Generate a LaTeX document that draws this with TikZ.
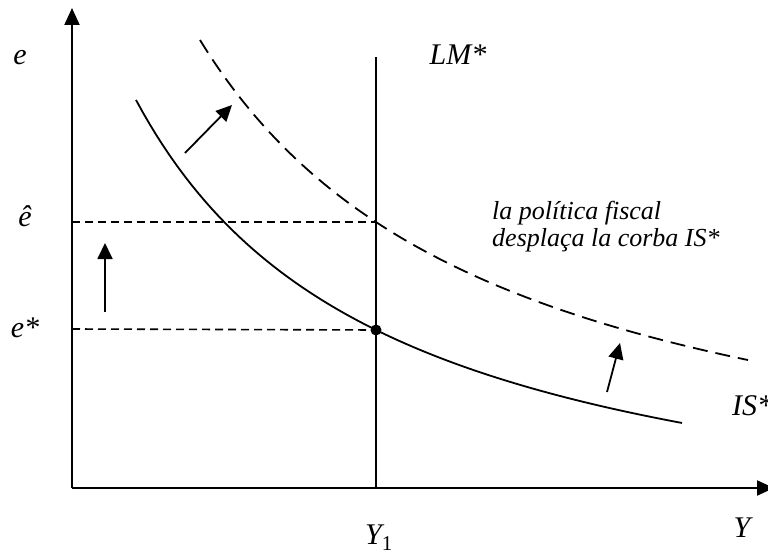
\documentclass[tikz,border=0pt]{standalone}
\usepackage{fontspec}
\setmainfont{Liberation Serif}
\usetikzlibrary{arrows.meta}

\tikzset{
  lbl/.style={font=\fontsize{30}{30}\selectfont\itshape, inner sep=0pt},
  axis/.style={line width=2.2pt, -{Triangle[length=17pt,width=15pt]}},
  curve/.style={line width=1.8pt},
  guide/.style={line width=1.6pt, dash pattern=on 8pt off 5pt},
  shiftarrow/.style={line width=1.8pt, -{Triangle[length=16pt,width=15pt]}},
}

\begin{document}
\begin{tikzpicture}[x=10pt,y=10pt]
  \useasboundingbox (-7.2,-6.7) rectangle (69.6,48.8);

  %axes
  \coordinate (O) at (0,0);
  \coordinate (ytop) at (0,48.0);
  \coordinate (xend) at (70.2,0);
  \draw[axis] (O) -- (ytop);
  \draw[axis] (O) -- (xend);

  %LM* vertical
  \coordinate (lmbot) at (30.4,0);
  \coordinate (lmtop) at (30.4,43.1);
  \draw[curve] (lmbot) -- (lmtop);

  %IS* before and after
  \draw[curve] plot[domain=6.4:61.0, samples=80] (\x, {-8.5 + 1199.61/(\x+18.96)});
  \draw[curve, dash pattern=on 15pt off 8pt] plot[domain=12.8:67.6, samples=80] (\x, {-5.1 + 1529.27/(\x+17.85)});

  %equilibria
  \coordinate (eq) at (30.4,15.8);
  \coordinate (eqnew) at (30.4,26.6);
  \fill (eq) circle[radius=0.55];
  \draw[guide] (0,15.9) -- (eq);
  \draw[guide] (0,26.6) -- (eqnew);

  %shifts
  \draw[shiftarrow] (3.3,17.6) -- (3.3,24.5);
  \draw[shiftarrow] (11.3,33.5) -- (16.0,38.3);
  \draw[shiftarrow] (53.5,9.6) -- (54.8,14.5);

  %labels
  \node[lbl] (e) at (-5.2,43.0) {e};
  \node[lbl] (ehat) at (-4.7,27.2) {ê};
  \node[lbl] (estar) at (-4.7,16.0) {e*};
  \node[lbl] (lm) at (38.6,43.3) {LM*};
  \node[lbl, anchor=west] (is) at (66.0,8.2) {IS*};
  \node[lbl, anchor=north] (y1) at (30.7,-3.7) {Y\textsubscript{\upshape 1}};
  \node[lbl] (y) at (67.0,-4.0) {Y};
  \node[anchor=north west, align=left, inner sep=0pt,
        font=\fontsize{26}{27}\selectfont\itshape] (note) at (42.0,28.7)
        {la política fiscal\\desplaça la corba IS*};
\end{tikzpicture}
\end{document}
